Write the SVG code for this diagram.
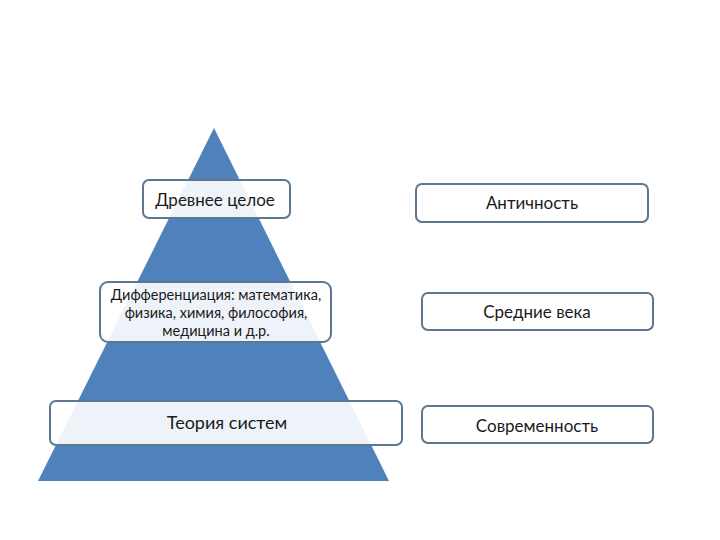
<svg xmlns="http://www.w3.org/2000/svg" width="720" height="540" viewBox="0 0 720 540">
<style>
.box{fill:#ffffff;fill-opacity:0.9;stroke:#5d7691;stroke-width:2}
.rbox{fill:#ffffff;stroke:#5d7691;stroke-width:2}
.t{font-family:Lato,"Open Sans","Liberation Sans",sans-serif;font-size:17px;fill:#1a1a1a;text-anchor:middle}
.s{font-size:14.5px}
</style>
<rect width="720" height="540" fill="#ffffff"/>
<g id="pyramid">
<polygon points="214,128 389,481 38,481" fill="#4f81bd"/>
</g>
<g id="connectors"></g>
<g id="node-ancient-whole">
<rect class="box" x="143" y="180" width="147" height="38" rx="6"/>
<text class="t" x="215" y="205.5">Древнее целое</text>
</g>
<g id="node-differentiation">
<rect class="box" x="100" y="282" width="231" height="60" rx="8"/>
<text class="t s" x="216" y="300">Дифференциация: математика,</text>
<text class="t s" x="216" y="318">физика, химия, философия,</text>
<text class="t s" x="216" y="336">медицина и д.р.</text>
</g>
<g id="node-systems-theory">
<rect class="box" x="50" y="401" width="352" height="44" rx="6"/>
<text class="t" x="227" y="429" style="font-size:18px">Теория систем</text>
</g>
<g id="node-antiquity">
<rect class="rbox" x="416" y="184" width="232" height="38" rx="6"/>
<text class="t" x="532" y="209">Античность</text>
</g>
<g id="node-middle-ages">
<rect class="rbox" x="422" y="293" width="231" height="37" rx="6"/>
<text class="t" x="537" y="318">Средние века</text>
</g>
<g id="node-modernity">
<rect class="rbox" x="422" y="406" width="231" height="37" rx="6"/>
<text class="t" x="537" y="432">Современность</text>
</g>
</svg>
